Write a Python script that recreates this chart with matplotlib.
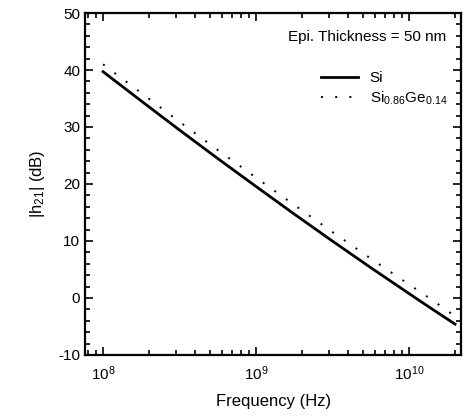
import numpy as np
import matplotlib
matplotlib.use("Agg")
import matplotlib.pyplot as plt
from matplotlib.ticker import LogLocator, MultipleLocator, NullFormatter

plt.rcParams['font.family'] = ['Liberation Sans', 'DejaVu Sans']
plt.rcParams['mathtext.fontset'] = 'custom'
plt.rcParams['mathtext.rm'] = 'Liberation Sans'
plt.rcParams['mathtext.it'] = 'Liberation Sans'
plt.rcParams['axes.unicode_minus'] = False

# log10 of frequency (Hz)
log_freq = [8.0, 8.25, 8.5, 8.75, 9.0, 9.25, 9.5, 9.75, 10.0, 10.15, 10.3]
# |h21| in dB
h21_si = [39.7, 34.55, 29.45, 24.45, 19.55, 14.7, 9.95, 5.3, 0.75, -1.95, -4.6]
h21_sige = [41.0, 35.95, 30.9, 25.95, 21.1, 16.3, 11.55, 6.9, 2.35, -0.35, -3.2]

freq = 10 ** np.array(log_freq)

fig = plt.figure(figsize=(4.75, 4.2), dpi=100)
ax = fig.add_axes([0.179, 0.155, 0.792, 0.814])

ax.plot(freq, h21_si, color='black', lw=2.0, label='Si')
ax.plot(freq, h21_sige, color='black', lw=1.4, linestyle=(0, (1, 6.3)),
        label='Si$_{0.86}$Ge$_{0.14}$')

ax.set_xscale('log')
ax.set_xlim(7.62e7, 2.19e10)
ax.set_ylim(-10, 50)
ax.yaxis.set_major_locator(MultipleLocator(10))
ax.yaxis.set_minor_locator(MultipleLocator(2))
ax.xaxis.set_major_locator(LogLocator(base=10, numticks=10))
ax.xaxis.set_minor_locator(LogLocator(base=10, subs=np.arange(2, 10), numticks=20))
ax.xaxis.set_minor_formatter(NullFormatter())

ax.tick_params(which='both', direction='in', top=True, right=True, width=1.2, labelsize=11)
ax.tick_params(which='major', length=6)
ax.tick_params(which='minor', length=3.5)
ax.tick_params(axis='x', which='major', pad=7)
for s in ax.spines.values():
    s.set_linewidth(1.6)

ax.set_xlabel('Frequency (Hz)', fontsize=12, labelpad=8)
ax.set_ylabel('|h$_{21}$| (dB)', fontsize=12, labelpad=8)

ax.text(0.96, 0.93, 'Epi. Thickness = 50 nm', transform=ax.transAxes,
        ha='right', va='center', fontsize=11)
ax.legend(loc='upper right', bbox_to_anchor=(1.0, 0.87), frameon=False,
          fontsize=11, handlelength=2.4, handletextpad=0.8, labelspacing=0.3)

fig.savefig('out.png', dpi=100)
